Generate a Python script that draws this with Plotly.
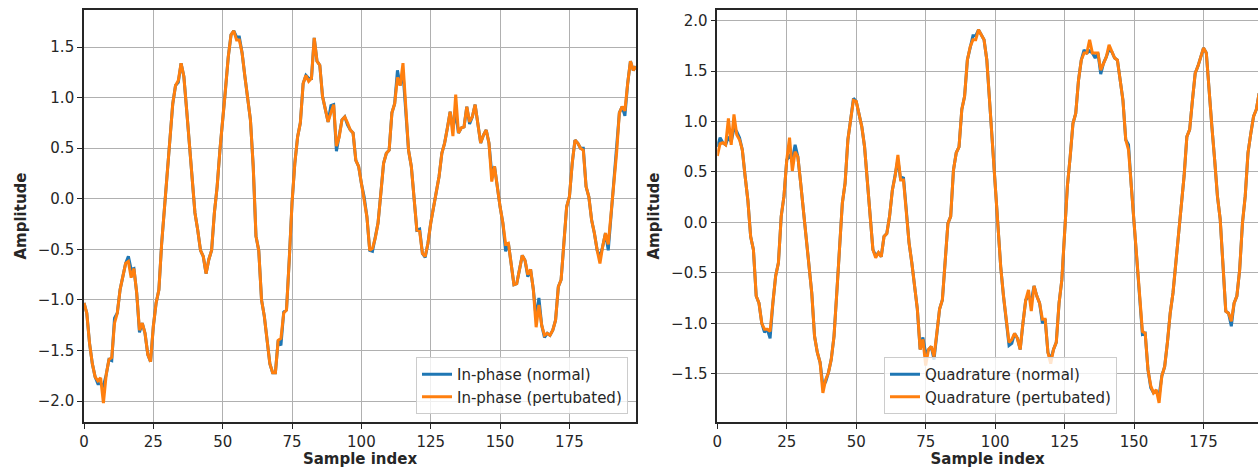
import plotly.graph_objects as go

# In-phase component, samples 0..199
inphase_normal = [
    -1.03, -1.13, -1.43, -1.63, -1.76, -1.83, -1.83, -1.85, -1.74, -1.59,
    -1.60, -1.18, -1.13, -0.90, -0.77, -0.64, -0.57, -0.70, -0.69, -0.93,
    -1.32, -1.23, -1.33, -1.54, -1.61, -1.26, -1.03, -0.90, -0.44, -0.11,
    0.25, 0.61, 0.94, 1.12, 1.15, 1.34, 1.21, 0.88, 0.55, 0.22,
    -0.14, -0.31, -0.51, -0.57, -0.74, -0.60, -0.51, -0.14, 0.12, 0.48,
    0.75, 1.08, 1.40, 1.62, 1.66, 1.60, 1.60, 1.44, 1.21, 0.98,
    0.78, 0.32, -0.37, -0.51, -1.00, -1.16, -1.40, -1.63, -1.72, -1.72,
    -1.40, -1.45, -1.12, -1.10, -0.60, -0.04, 0.35, 0.61, 0.75, 1.14,
    1.22, 1.19, 1.19, 1.59, 1.36, 1.32, 1.01, 0.89, 0.76, 0.92,
    0.93, 0.47, 0.61, 0.78, 0.81, 0.73, 0.68, 0.65, 0.38, 0.32,
    0.15, 0.02, -0.18, -0.51, -0.52, -0.39, -0.24, 0.05, 0.35, 0.45,
    0.48, 0.85, 0.94, 1.27, 1.12, 1.25, 0.88, 0.48, 0.32, 0.02,
    -0.31, -0.30, -0.54, -0.58, -0.44, -0.24, -0.08, 0.07, 0.22, 0.45,
    0.55, 0.70, 0.86, 0.70, 0.85, 0.65, 0.70, 0.71, 0.91, 0.74,
    0.81, 0.93, 0.75, 0.55, 0.63, 0.68, 0.55, 0.25, 0.32, 0.09,
    -0.08, -0.24, -0.52, -0.44, -0.64, -0.85, -0.84, -0.70, -0.56, -0.61,
    -0.77, -0.70, -0.90, -1.18, -0.98, -1.25, -1.37, -1.33, -1.35, -1.30,
    -1.20, -0.87, -0.80, -0.44, -0.08, 0.02, 0.35, 0.58, 0.55, 0.50,
    0.50, 0.12, 0.02, -0.21, -0.34, -0.51, -0.58, -0.47, -0.34, -0.51,
    -0.18, 0.15, 0.45, 0.85, 0.91, 0.82, 1.14, 1.36, 1.27, 1.31,
]
inphase_perturbed = [
    -1.03, -1.13, -1.43, -1.63, -1.76, -1.80, -1.77, -2.02, -1.74, -1.59,
    -1.57, -1.23, -1.13, -0.90, -0.77, -0.64, -0.62, -0.78, -0.69, -0.93,
    -1.30, -1.23, -1.33, -1.54, -1.61, -1.26, -1.03, -0.90, -0.44, -0.11,
    0.25, 0.61, 0.94, 1.12, 1.17, 1.34, 1.21, 0.88, 0.55, 0.22,
    -0.14, -0.31, -0.51, -0.57, -0.74, -0.60, -0.51, -0.14, 0.12, 0.48,
    0.75, 1.08, 1.40, 1.62, 1.66, 1.57, 1.57, 1.44, 1.21, 0.98,
    0.78, 0.32, -0.37, -0.51, -1.00, -1.16, -1.40, -1.63, -1.72, -1.72,
    -1.40, -1.38, -1.13, -1.10, -0.60, -0.04, 0.35, 0.61, 0.75, 1.14,
    1.22, 1.16, 1.19, 1.59, 1.36, 1.32, 1.01, 0.89, 0.76, 0.85,
    0.93, 0.52, 0.61, 0.78, 0.81, 0.75, 0.68, 0.65, 0.38, 0.32,
    0.15, 0.02, -0.18, -0.51, -0.49, -0.39, -0.24, 0.05, 0.35, 0.45,
    0.48, 0.85, 0.94, 1.20, 1.12, 1.34, 0.88, 0.48, 0.32, 0.02,
    -0.31, -0.32, -0.54, -0.57, -0.44, -0.24, -0.08, 0.07, 0.22, 0.45,
    0.55, 0.70, 0.86, 0.62, 1.03, 0.65, 0.70, 0.71, 0.91, 0.76,
    0.81, 0.93, 0.75, 0.55, 0.63, 0.68, 0.55, 0.17, 0.32, 0.09,
    -0.08, -0.24, -0.45, -0.44, -0.64, -0.85, -0.84, -0.70, -0.56, -0.61,
    -0.75, -0.70, -0.90, -1.27, -1.05, -1.25, -1.35, -1.33, -1.35, -1.30,
    -1.20, -0.87, -0.80, -0.44, -0.08, 0.02, 0.35, 0.58, 0.55, 0.50,
    0.48, 0.12, 0.02, -0.21, -0.34, -0.51, -0.64, -0.47, -0.34, -0.45,
    -0.18, 0.15, 0.45, 0.85, 0.91, 0.87, 1.14, 1.36, 1.27, 1.31,
]

# Quadrature component, samples 0..195
quadrature_normal = [
    0.75, 0.84, 0.79, 0.77, 0.85, 0.80, 0.93, 0.90, 0.84, 0.72,
    0.46, 0.22, -0.14, -0.27, -0.73, -0.80, -1.00, -1.09, -1.06, -1.15,
    -0.80, -0.53, -0.40, 0.06, 0.26, 0.62, 0.66, 0.62, 0.77, 0.65,
    0.39, 0.13, -0.14, -0.40, -0.70, -1.13, -1.29, -1.39, -1.62, -1.58,
    -1.49, -1.36, -1.13, -0.70, -0.20, 0.19, 0.39, 0.82, 1.02, 1.23,
    1.20, 1.08, 0.95, 0.75, 0.39, 0.06, -0.27, -0.33, -0.30, -0.34,
    -0.14, -0.11, 0.06, 0.32, 0.46, 0.62, 0.42, 0.45, 0.13, -0.20,
    -0.40, -0.63, -0.86, -1.26, -1.14, -1.30, -1.26, -1.23, -1.36, -1.10,
    -0.86, -0.77, -0.40, -0.01, 0.06, 0.52, 0.69, 0.75, 1.12, 1.25,
    1.61, 1.74, 1.85, 1.85, 1.91, 1.86, 1.81, 1.61, 1.20, 0.70,
    0.32, -0.07, -0.44, -0.73, -0.96, -1.22, -1.20, -1.10, -1.15, -1.26,
    -1.00, -0.77, -0.73, -0.78, -0.63, -0.73, -0.80, -1.00, -0.96, -1.29,
    -1.36, -1.26, -1.19, -0.80, -0.57, -0.14, 0.36, 0.65, 0.98, 1.08,
    1.41, 1.61, 1.71, 1.68, 1.70, 1.68, 1.63, 1.68, 1.47, 1.58,
    1.64, 1.72, 1.69, 1.63, 1.61, 1.41, 1.21, 0.82, 0.77, 0.36,
    -0.01, -0.34, -0.80, -1.11, -1.10, -1.46, -1.64, -1.69, -1.68, -1.72,
    -1.52, -1.43, -1.19, -0.90, -0.70, -0.40, -0.17, 0.13, 0.46, 0.85,
    0.92, 1.21, 1.48, 1.55, 1.64, 1.73, 1.68, 1.28, 0.95, 0.62,
    0.26, 0.03, -0.47, -0.88, -0.90, -1.03, -0.80, -0.73, -0.47, -0.01,
    0.26, 0.69, 0.88, 1.05, 1.12, 1.28,
]
quadrature_perturbed = [
    0.66, 0.78, 0.79, 0.77, 1.03, 0.77, 1.07, 0.87, 0.82, 0.72,
    0.46, 0.22, -0.14, -0.27, -0.73, -0.80, -1.00, -1.06, -1.06, -1.08,
    -0.80, -0.53, -0.40, 0.06, 0.26, 0.62, 0.84, 0.51, 0.70, 0.65,
    0.39, 0.13, -0.14, -0.40, -0.70, -1.13, -1.29, -1.39, -1.69, -1.56,
    -1.49, -1.36, -1.13, -0.70, -0.20, 0.19, 0.39, 0.82, 1.02, 1.21,
    1.20, 1.08, 0.95, 0.75, 0.39, 0.06, -0.27, -0.35, -0.30, -0.34,
    -0.14, -0.11, 0.06, 0.32, 0.46, 0.67, 0.42, 0.42, 0.13, -0.20,
    -0.40, -0.63, -0.86, -1.26, -1.16, -1.42, -1.26, -1.23, -1.33, -1.10,
    -0.86, -0.77, -0.40, -0.01, 0.06, 0.52, 0.69, 0.75, 1.12, 1.25,
    1.61, 1.74, 1.81, 1.81, 1.91, 1.86, 1.81, 1.61, 1.20, 0.70,
    0.32, -0.07, -0.44, -0.73, -0.96, -1.19, -1.16, -1.10, -1.15, -1.26,
    -1.00, -0.77, -0.67, -0.88, -0.63, -0.73, -0.80, -0.96, -0.96, -1.29,
    -1.40, -1.26, -1.19, -0.80, -0.57, -0.14, 0.36, 0.65, 0.98, 1.08,
    1.41, 1.61, 1.68, 1.68, 1.81, 1.68, 1.68, 1.68, 1.51, 1.58,
    1.64, 1.76, 1.69, 1.63, 1.61, 1.41, 1.21, 0.82, 0.72, 0.36,
    -0.01, -0.34, -0.80, -1.08, -1.10, -1.46, -1.62, -1.69, -1.66, -1.79,
    -1.52, -1.43, -1.19, -0.90, -0.70, -0.40, -0.17, 0.13, 0.46, 0.85,
    0.92, 1.21, 1.48, 1.55, 1.64, 1.73, 1.68, 1.28, 0.95, 0.62,
    0.26, 0.03, -0.47, -0.88, -0.90, -0.98, -0.80, -0.73, -0.47, -0.01,
    0.26, 0.69, 0.88, 1.05, 1.12, 1.28,
]

x_ticks = [0, 25, 50, 75, 100, 125, 150, 175]
y_ticks = [-2.0, -1.5, -1.0, -0.5, 0.0, 0.5, 1.0, 1.5, 2.0]

BLUE = "#1f77b4"
ORANGE = "#ff7f0e"
FONT = "DejaVu Sans"
INK = "#262626"
LW = 3

fig = go.Figure()

idx_i = list(range(len(inphase_normal)))
idx_q = list(range(len(quadrature_normal)))

fig.add_trace(go.Scatter(x=idx_i, y=inphase_normal, mode="lines",
                         name="In-phase (normal)", line=dict(color=BLUE, width=LW),
                         xaxis="x", yaxis="y", legend="legend"))
fig.add_trace(go.Scatter(x=idx_i, y=inphase_perturbed, mode="lines",
                         name="In-phase (pertubated)", line=dict(color=ORANGE, width=LW),
                         xaxis="x", yaxis="y", legend="legend"))
fig.add_trace(go.Scatter(x=idx_q, y=quadrature_normal, mode="lines",
                         name="Quadrature (normal)", line=dict(color=BLUE, width=LW),
                         xaxis="x2", yaxis="y2", legend="legend2"))
fig.add_trace(go.Scatter(x=idx_q, y=quadrature_perturbed, mode="lines",
                         name="Quadrature (pertubated)", line=dict(color=ORANGE, width=LW),
                         xaxis="x2", yaxis="y2", legend="legend2"))

W, H = 1258, 468
ML, MR, MT, MB = 84, 0, 10, 46
plot_w = W - ML - MR

def px_to_dom(px):
    return (px - ML) / plot_w

axis_common = dict(
    showgrid=True, gridcolor="#b0b0b0", gridwidth=1.3,
    showline=True, linecolor=INK, linewidth=1.6,
    ticks="outside", ticklen=5, tickwidth=1.4, tickcolor=INK,
    tickfont=dict(family=FONT, size=15, color=INK),
    zeroline=False, automargin=False,
)
title_font = dict(family=FONT, size=15, color=INK, weight="bold")

fig.update_layout(
    width=W, height=H,
    margin=dict(l=ML, r=MR, t=MT, b=MB),
    paper_bgcolor="white", plot_bgcolor="white",
    font=dict(family=FONT, size=15, color=INK),
    xaxis=dict(axis_common, domain=[0, px_to_dom(636)], range=[0, 199],
               tickvals=x_ticks, mirror=True, anchor="y",
               title=dict(text="Sample index", font=title_font, standoff=5)),
    yaxis=dict(axis_common, domain=[0, 1], range=[-2.207, 1.866],
               tickvals=y_ticks, tickformat=".1f", mirror=True, anchor="x",
               title=dict(text="Amplitude", font=title_font, standoff=8)),
    xaxis2=dict(axis_common, domain=[px_to_dom(717.3), 1], range=[0, 194.6],
                tickvals=x_ticks, mirror=True, anchor="y2",
                title=dict(text="Sample index", font=title_font, standoff=5)),
    yaxis2=dict(axis_common, domain=[0, 1], range=[-1.979, 2.106],
                tickvals=y_ticks, tickformat=".1f", mirror=False, anchor="x2",
                title=dict(text="Amplitude", font=title_font, standoff=8)),
    legend=dict(x=px_to_dom(628), y=(422 - 414) / 412, xanchor="right", yanchor="bottom",
                bgcolor="rgba(255,255,255,0.8)", bordercolor="#cccccc", borderwidth=1,
                font=dict(family=FONT, size=15, color=INK)),
    legend2=dict(x=px_to_dom(1117), y=(422 - 414) / 412, xanchor="right", yanchor="bottom",
                 bgcolor="rgba(255,255,255,0.8)", bordercolor="#cccccc", borderwidth=1,
                 font=dict(family=FONT, size=15, color=INK)),
    showlegend=True,
)

fig.write_html("out.html")
